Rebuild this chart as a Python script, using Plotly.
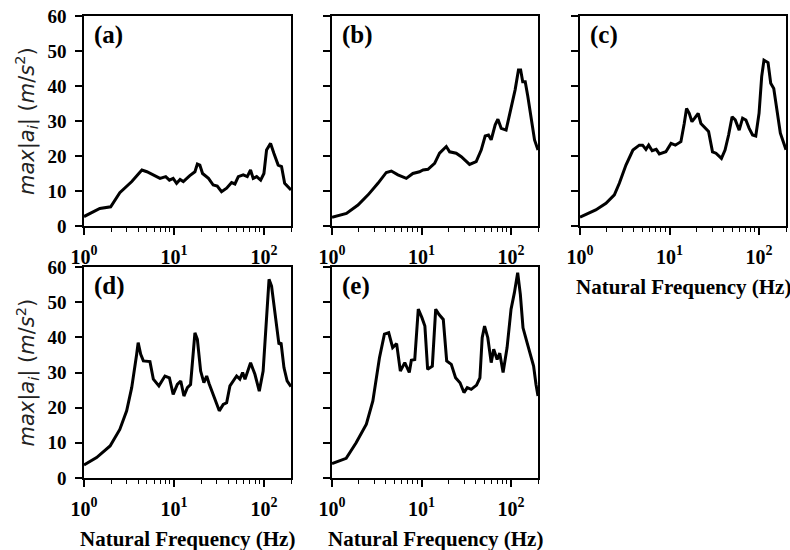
import numpy as np
import plotly.graph_objects as go

# ---------------- data ----------------
freq_a = [1.0, 1.5, 1.98, 2.5, 3.4, 4.4, 5.0, 7.0, 8.1, 8.9, 9.8, 10.7, 11.7, 12.7, 15.0, 17.1,
          18.2, 19.4, 20.8, 24.2, 27.3, 30.3, 33.8, 38.5, 43.7, 47.6, 51.9, 58.9, 65.3, 71.0,
          76.0, 83.0, 92.0, 100.0, 107.0, 118.6, 129.0, 144.0, 157.0, 170.0, 200.0]
acc_a = [2.7, 5.0, 5.5, 9.5, 12.7, 16.0, 15.5, 13.6, 14.1, 13.1, 13.6, 12.2, 13.3, 12.7, 14.4, 15.5,
         17.7, 17.4, 15.0, 13.6, 11.7, 11.4, 9.8, 10.8, 12.4, 12.0, 14.1, 14.6, 14.1, 16.0,
         13.6, 14.1, 13.1, 15.0, 21.7, 23.6, 20.8, 17.4, 17.0, 12.2, 10.3]

freq_b = [1.0, 1.45, 1.95, 2.53, 3.26, 4.04, 4.6, 5.45, 6.76, 8.0, 9.5, 10.4, 11.8, 14.0, 15.9,
          18.9, 20.6, 24.4, 27.8, 30.2, 34.4, 40.8, 46.4, 51.4, 56.0, 60.0, 66.5, 71.3, 77.6,
          88.0, 100.0, 111.0, 121.0, 128.0, 135.0, 144.0, 154.0, 168.0, 183.0, 200.0]
acc_b = [2.5, 3.6, 6.0, 8.9, 12.2, 15.3, 15.7, 14.6, 13.6, 15.0, 15.5, 16.0, 16.2, 17.9, 20.8,
         22.7, 21.2, 20.8, 19.8, 18.9, 17.6, 18.4, 21.7, 25.7, 26.0, 24.6, 28.9, 30.5, 27.9,
         27.4, 34.1, 38.9, 44.6, 44.6, 41.2, 41.2, 37.0, 30.3, 24.6, 21.7]

freq_c = [1.0, 1.5, 1.95, 2.42, 2.75, 3.26, 3.9, 4.6, 5.0, 5.45, 5.85, 6.4, 7.1, 7.7, 9.1, 10.4,
          11.6, 13.4, 14.6, 15.5, 16.6, 17.8, 19.1, 20.9, 22.4, 24.4, 27.3, 30.2, 33.0, 38.0,
          41.7, 45.7, 50.0, 54.2, 60.0, 65.5, 71.3, 77.6, 84.6, 91.9, 100.0, 107.0, 113.5, 126.0,
          135.0, 146.0, 159.0, 173.0, 200.0]
acc_c = [2.5, 4.6, 6.5, 8.9, 12.2, 17.4, 21.7, 23.1, 23.1, 21.9, 23.1, 21.5, 21.9, 20.6, 21.2, 23.6,
         23.1, 24.1, 29.3, 33.6, 32.2, 29.8, 30.8, 32.2, 29.3, 28.4, 27.0, 21.2, 20.8, 19.3,
         21.7, 26.0, 31.2, 30.3, 27.4, 30.8, 30.3, 27.9, 26.0, 25.7, 32.2, 42.7, 47.4, 46.7,
         40.8, 39.3, 33.1, 26.5, 21.8]

freq_d = [1.0, 1.38, 1.95, 2.5, 2.98, 3.39, 3.85, 4.0, 4.27, 4.57, 5.41, 5.9, 6.8, 7.94, 8.9, 9.8,
          10.9, 11.9, 12.9, 14.1, 15.3, 17.1, 18.2, 19.8, 21.5, 23.1, 24.6, 27.3, 31.9, 35.3,
          38.5, 41.9, 45.7, 49.7, 54.0, 58.0, 61.6, 71.1, 79.4, 88.8, 98.0, 107.0, 114.0, 121.6,
          132.0, 147.0, 155.0, 167.0, 181.0, 200.0]
acc_d = [3.7, 5.8, 9.1, 13.8, 19.1, 25.7, 35.2, 38.5, 35.2, 33.3, 33.1, 28.1, 26.2, 29.0, 28.5, 23.8,
         26.6, 27.6, 23.3, 25.7, 26.6, 41.3, 39.4, 30.4, 27.1, 29.0, 26.8, 23.8, 19.1, 20.9,
         21.4, 26.2, 27.6, 29.0, 28.1, 30.0, 28.1, 32.8, 29.5, 24.7, 30.4, 46.5, 56.5, 54.6,
         47.5, 38.0, 38.5, 31.4, 27.6, 26.0]

freq_e = [1.0, 1.44, 1.86, 2.42, 2.86, 3.39, 3.85, 4.3, 4.76, 5.27, 5.8, 6.5, 7.3, 7.7, 8.4, 9.2,
          10.1, 10.9, 11.7, 13.2, 14.4, 15.7, 17.5, 19.1, 21.5, 24.0, 26.9, 29.8, 32.4, 35.9,
          41.2, 44.9, 47.6, 50.6, 55.0, 60.0, 64.0, 69.9, 74.8, 81.5, 90.3, 100.0, 109.0, 118.6,
          127.0, 136.0, 151.0, 167.0, 178.6, 190.0, 200.0]
acc_e = [4.1, 5.6, 10.0, 15.3, 21.9, 34.2, 40.9, 41.3, 37.1, 38.2, 30.4, 32.8, 30.0, 33.5, 33.7, 48.0,
         45.6, 43.2, 30.9, 31.8, 48.0, 46.5, 45.1, 33.3, 32.3, 28.5, 27.1, 24.3, 25.7, 25.2,
         26.4, 28.5, 39.9, 43.2, 39.9, 32.8, 36.6, 33.7, 35.5, 30.0, 37.1, 48.0, 52.7, 58.4,
         52.2, 42.7, 38.5, 34.2, 31.8, 26.6, 23.3]

panel_labels = ["(a)", "(b)", "(c)", "(d)", "(e)"]
x_tick_vals = [1, 10, 100]
x_tick_text = ["10<sup>0</sup>", "10<sup>1</sup>", "10<sup>2</sup>"]
x_title = "Natural Frequency (Hz)"
y_title = "<i>max</i>|<i>a<sub>i</sub></i>| (<i>m</i>/<i>s</i><sup>2</sup>)"

series = [(freq_a, acc_a), (freq_b, acc_b), (freq_c, acc_c), (freq_d, acc_d), (freq_e, acc_e)]

# ---------------- layout geometry ----------------
W, H = 790, 550
col_px = [(84, 291), (332, 538), (580, 786)]
row_px = [(16, 226), (267, 478)]
grid = [(0, 0), (0, 1), (0, 2), (1, 0), (1, 1)]

serif = "Liberation Serif, Times New Roman, serif"
minor_vals = [m * 10 ** k for k in range(3) for m in range(2, 10)] + [200]

fig = go.Figure()
layout = dict(
    width=W, height=H,
    margin=dict(l=0, r=0, t=0, b=0, autoexpand=False),
    paper_bgcolor="white", plot_bgcolor="white",
    showlegend=False,
    annotations=[],
)

for i, ((r, c), (fx, fy)) in enumerate(zip(grid, series)):
    n = "" if i == 0 else str(i + 1)
    x0, x1 = col_px[c]
    y0, y1 = row_px[r]
    fig.add_trace(go.Scatter(x=fx, y=fy, mode="lines",
                             line=dict(color="black", width=3, shape="linear"),
                             xaxis="x" + n, yaxis="y" + n, hoverinfo="skip"))
    layout["xaxis" + n] = dict(
        type="log", range=[0, np.log10(200)], domain=[x0 / W, x1 / W], anchor="y" + n,
        automargin=False,
        showline=True, linecolor="black", linewidth=1.5, mirror=True,
        showgrid=False, zeroline=False,
        ticks="outside", ticklen=7, tickwidth=1.5, tickcolor="black",
        tickmode="array", tickvals=x_tick_vals, ticktext=x_tick_text,
        ticklabelstandoff=5,
        tickfont=dict(family=serif, size=20, color="black", weight="bold"),
        minor=dict(tickmode="array", tickvals=minor_vals, ticks="outside", ticklen=4,
                   tickwidth=1.2, tickcolor="black", showgrid=False),
    )
    layout["yaxis" + n] = dict(
        range=[0, 60], domain=[1 - y1 / H, 1 - y0 / H], anchor="x" + n,
        automargin=False,
        showline=True, linecolor="black", linewidth=1.5, mirror=True,
        showgrid=False, zeroline=False,
        ticks="outside", ticklen=7, tickwidth=1.5, tickcolor="black",
        tickmode="linear", tick0=0, dtick=10,
        showticklabels=(c == 0), ticklabelstandoff=5,
        tickfont=dict(family=serif, size=19, color="black", weight="bold"),
    )
    layout["annotations"].append(dict(
        text="<b>%s</b>" % panel_labels[i], xref="x%s domain" % n, yref="y%s domain" % n,
        x=0.04, y=0.985, xanchor="left", yanchor="top", showarrow=False,
        font=dict(family=serif, size=25, color="black")))
    if (r, c) in [(0, 2), (1, 0), (1, 1)]:
        layout["annotations"].append(dict(
            text="<b>%s</b>" % x_title, xref="x%s domain" % n, yref="y%s domain" % n,
            x=0.5, y=-61 / 210, xanchor="center", yanchor="middle", showarrow=False,
            font=dict(family=serif, size=21, color="black")))
    if c == 0:
        layout["annotations"].append(dict(
            text=y_title, xref="paper", yref="y%s domain" % n,
            x=26 / W, y=0.5, xanchor="center", yanchor="middle", textangle=-90,
            showarrow=False, font=dict(family="DejaVu Sans", size=21, color="#222222")))

fig.update_layout(**layout)
fig.write_html("out.html")
